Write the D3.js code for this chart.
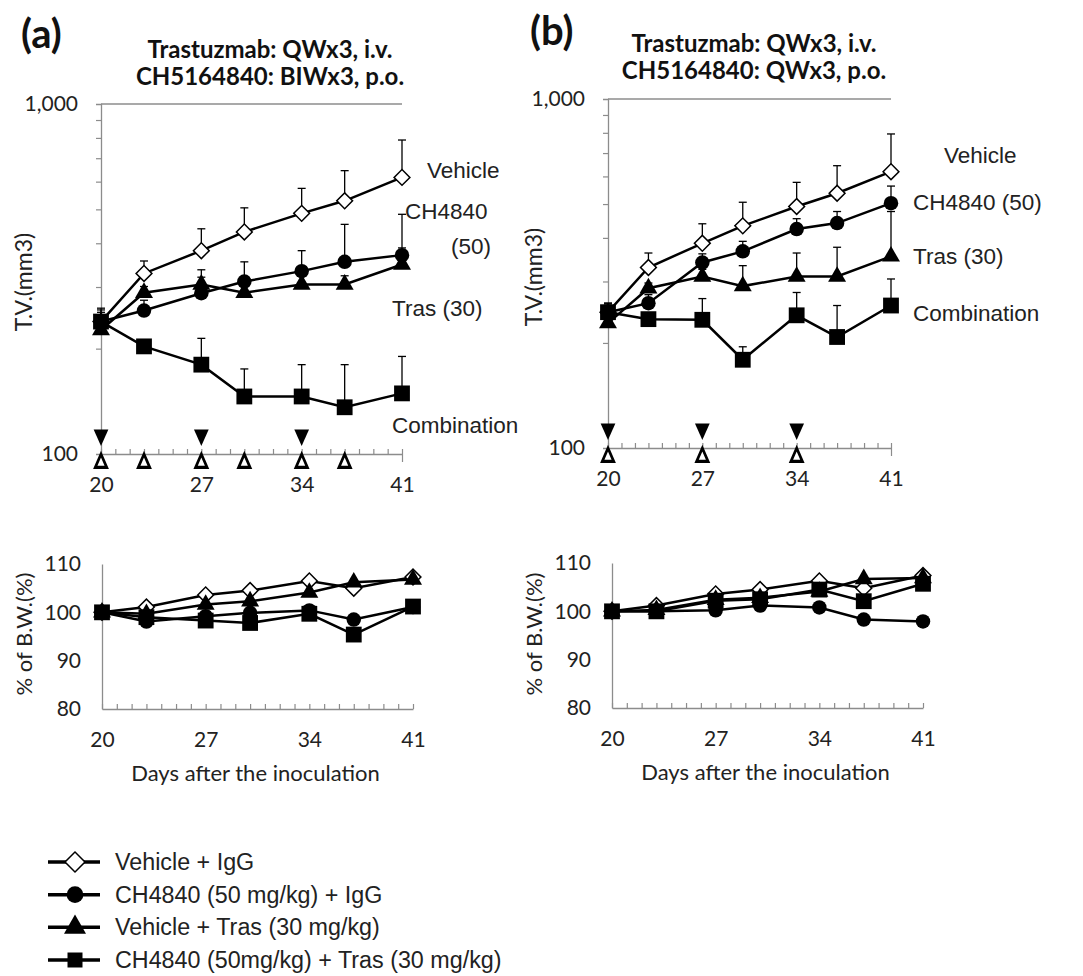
<!DOCTYPE html>
<html><head><meta charset="utf-8">
<script src="https://cdn.jsdelivr.net/npm/d3@7"></script>
<style>body{margin:0;background:#fff}</style>
</head><body>
<svg id="c" width="1083" height="976"></svg>
<script>
// ---------- DATA ----------
const days = [20, 23, 27, 30, 34, 37, 41];
const xTickDays = [20, 27, 34, 41];
const tvTickLabels = [100, 1000];
const tvMinorTicks = [200, 300, 400, 500, 600, 700, 800, 900];
const bwTickLabels = [80, 90, 100, 110];
const seriesNames = ["Vehicle + IgG", "CH4840 (50 mg/kg) + IgG", "Vehicle + Tras (30 mg/kg)", "CH4840 (50mg/kg) + Tras (30 mg/kg)"];
const seriesShapes = ["diamond", "circle", "triangle", "square"];

// Panel (a) tumour volume (mm3) and upper SD
const tvA_vehicle = [239, 328, 381, 431, 487, 529, 617];
const tvA_vehicleErr = [22, 28, 59, 74, 87, 116, 172];
const tvA_ch = [239, 257, 288, 311, 333, 354, 370];
const tvA_chErr = [15, 18, 32, 43, 48, 99, 114];
const tvA_tras = [226, 289, 305, 289, 305, 305, 348];
const tvA_trasErr = [10, 12, 31, 15, 18, 18, 40];
const tvA_combo = [239, 203, 180, 146, 146, 136, 149];
const tvA_comboErr = [19, 7, 34, 29, 34, 44, 41];

// Panel (b) tumour volume (mm3) and upper SD
const tvB_vehicle = [245, 329, 386, 433, 492, 537, 619];
const tvB_vehicleErr = [15, 33, 53, 73, 85, 107, 175];
const tvB_ch = [245, 260, 340, 366, 424, 441, 503];
const tvB_chErr = [12, 15, 20, 25, 30, 35, 60];
const tvB_tras = [228, 287, 310, 291, 310, 310, 354];
const tvB_trasErr = [10, 10, 15, 42, 52, 66, 122];
const tvB_combo = [245, 234, 233, 179, 240, 208, 256];
const tvB_comboErr = [15, 8, 35, 16, 39, 48, 49];

// % of body weight
const bwA_vehicle = [100, 101.1, 103.6, 104.5, 106.5, 105.0, 107.3];
const bwA_ch = [100, 98.1, 99.2, 99.9, 100.4, 98.5, 101.1];
const bwA_tras = [100, 99.7, 101.6, 102.3, 104.1, 106.2, 106.8];
const bwA_combo = [100, 99.0, 98.3, 97.8, 99.7, 95.4, 101.2];
const bwB_vehicle = [100, 101.2, 103.6, 104.5, 106.3, 104.8, 107.4];
const bwB_ch = [100, 100.0, 100.2, 101.2, 100.8, 98.3, 97.9];
const bwB_tras = [100, 100.3, 102.4, 102.8, 104.1, 106.7, 106.9];
const bwB_combo = [100, 100.0, 102.2, 102.5, 104.5, 102.1, 105.7];

// dosing days
const trasDoseDays = [20, 27, 34];
const chDoseDaysA = [20, 23, 27, 30, 34, 37];
const chDoseDaysB = [20, 27, 34];

// texts
const panelTags = ["(a)", "(b)"];
const titleA = ["Trastuzmab: QWx3, i.v.", "CH5164840: BIWx3, p.o."];
const titleB = ["Trastuzmab: QWx3, i.v.", "CH5164840: QWx3, p.o."];
const tvAxisTitle = "T.V.(mm3)";
const bwAxisTitle = "% of B.W.(%)";
const xAxisTitle = "Days after the inoculation";
const curveLabelsA = ["Vehicle", "CH4840", "(50)", "Tras (30)", "Combination"];
const curveLabelsB = ["Vehicle", "CH4840 (50)", "Tras (30)", "Combination"];

// ---------- DRAWING ----------
const svg = d3.select("#c");
const AX = "#8c8c8c";
const TXT = "#222";
const numFont = "Lato, 'Liberation Sans', sans-serif";
const lblFont = "'Liberation Sans', Arial, sans-serif";

const markerArea = { diamond: 125, circle: 165, triangle: 140, square: 250 };
function drawMarker(g, shape, x, y, areas) {
  const a = (areas || markerArea)[shape];
  const type = shape === "circle" ? d3.symbolCircle : shape === "triangle" ? d3.symbolTriangle : d3.symbolSquare;
  const p = g.append("path").attr("d", d3.symbol(type, a)())
    .attr("transform", `translate(${x},${y})` + (shape === "diamond" ? " rotate(45)" : ""));
  if (shape === "diamond") p.attr("fill", "#fff").attr("stroke", "#000").attr("stroke-width", 1.5);
  else p.attr("fill", "#000");
  return p;
}

function drawTop(cfg) {
  const g = svg.append("g");
  const x = d3.scaleLinear().domain([20, 41]).range(cfg.xr);
  const y = d3.scaleLog().domain([100, 1000]).range(cfg.yr);

  g.append("line").attr("x1", x(20)).attr("x2", x(41)).attr("y1", y(1000)).attr("y2", y(1000))
    .attr("stroke", AX).attr("stroke-width", 1.3);

  const ya = g.append("g").attr("transform", `translate(${x(20)},0)`)
    .call(d3.axisLeft(y).tickValues(tvMinorTicks).tickSize(5).tickFormat(""));
  ya.select(".domain").attr("stroke", AX).attr("stroke-width", 1.3);
  ya.selectAll(".tick line").attr("stroke", AX).attr("stroke-width", 1.2);
  const yl = g.append("g").attr("transform", `translate(${x(20) - 20},0)`)
    .call(d3.axisLeft(y).tickValues(tvTickLabels).tickSize(0).tickFormat(d3.format(",")));
  yl.select(".domain").remove();
  yl.selectAll("text").attr("font-family", numFont).attr("font-size", 21).attr("fill", TXT);

  const xa = g.append("g").attr("transform", `translate(0,${y(100)})`)
    .call(d3.axisBottom(x).tickValues(d3.range(20, 42)).tickSizeInner(-5).tickSizeOuter(0).tickFormat(""));
  xa.select(".domain").attr("stroke", AX).attr("stroke-width", 1.3);
  xa.selectAll(".tick line").attr("stroke", AX).attr("stroke-width", 1.2);
  const xm = g.append("g").attr("transform", `translate(0,${y(100)})`)
    .call(d3.axisBottom(x).tickValues(xTickDays).tickSize(8).tickFormat(""));
  xm.select(".domain").remove();
  xm.selectAll(".tick line").attr("stroke", AX).attr("stroke-width", 1.2);
  const xl = g.append("g").attr("transform", `translate(0,${y(100) + 20})`)
    .call(d3.axisBottom(x).tickValues(xTickDays).tickSize(0).tickFormat(d3.format("d")));
  xl.select(".domain").remove();
  xl.selectAll("text").attr("font-family", numFont).attr("font-size", 21).attr("fill", TXT);

  g.append("text").attr("transform", `translate(${cfg.ytX},${cfg.ytY}) rotate(-90)`)
    .attr("text-anchor", "middle").attr("font-family", numFont).attr("font-size", 23)
    .attr("fill", TXT).text(tvAxisTitle);

  // dose markers
  trasDoseDays.forEach(d => {
    g.append("path").attr("d", d3.symbol(d3.symbolTriangle, 130)())
      .attr("transform", `translate(${x(d)},${y(100) - 19}) rotate(180) scale(0.85,1.1)`).attr("fill", "#000");
  });
  cfg.chDays.forEach(d => {
    g.append("path").attr("d", d3.symbol(d3.symbolTriangle, 70)())
      .attr("transform", `translate(${x(d)},${y(100) + 9}) scale(0.9,1.2)`).attr("fill", "#fff")
      .attr("stroke", "#000").attr("stroke-width", 2.8);
  });

  const line = d3.line().x((d, i) => x(days[i])).y(d => y(d));
  cfg.series.forEach((s, si) => {
    const sg = g.append("g");
    s.v.forEach((v, i) => {
      const top = v + s.e[i];
      sg.append("line").attr("x1", x(days[i])).attr("x2", x(days[i])).attr("y1", y(v)).attr("y2", y(top))
        .attr("stroke", "#000").attr("stroke-width", 1.3);
      sg.append("line").attr("x1", x(days[i]) - 4).attr("x2", x(days[i]) + 4).attr("y1", y(top)).attr("y2", y(top))
        .attr("stroke", "#000").attr("stroke-width", 1.3);
    });
    sg.append("path").datum(s.v).attr("d", line).attr("fill", "none").attr("stroke", "#000").attr("stroke-width", 2.5);
    s.v.forEach((v, i) => drawMarker(sg, seriesShapes[si], x(days[i]), y(v)));
  });

  cfg.labels.forEach(l => {
    g.append("text").attr("x", l.x).attr("y", l.y).attr("font-family", lblFont).attr("font-size", 22.5)
      .attr("fill", TXT).attr("text-anchor", l.anchor || "start").text(l.t);
  });
  return g;
}

function drawBottom(cfg) {
  const g = svg.append("g");
  const x = d3.scaleLinear().domain([20, 41]).range(cfg.xr);
  const y = d3.scaleLinear().domain([80, 110]).range(cfg.yr);

  const ya = g.append("g").attr("transform", `translate(${x(20)},0)`)
    .call(d3.axisLeft(y).tickValues(bwTickLabels).tickSize(0).tickFormat(""));
  ya.select(".domain").attr("stroke", AX).attr("stroke-width", 1.3);
  const yl = g.append("g").attr("transform", `translate(${x(20) - 18},0)`)
    .call(d3.axisLeft(y).tickValues(bwTickLabels).tickSize(0).tickFormat(d3.format("d")));
  yl.select(".domain").remove();
  yl.selectAll("text").attr("font-family", numFont).attr("font-size", 21).attr("fill", TXT);

  const xa = g.append("g").attr("transform", `translate(0,${y(80)})`)
    .call(d3.axisBottom(x).tickValues(d3.range(20, 42)).tickSizeInner(-5).tickSizeOuter(0).tickFormat(""));
  xa.select(".domain").attr("stroke", AX).attr("stroke-width", 1.3);
  xa.selectAll(".tick line").attr("stroke", AX).attr("stroke-width", 1.2);
  const xl = g.append("g").attr("transform", `translate(0,${y(80) + 20})`)
    .call(d3.axisBottom(x).tickValues(xTickDays).tickSize(0).tickFormat(d3.format("d")));
  xl.select(".domain").remove();
  xl.selectAll("text").attr("font-family", numFont).attr("font-size", 21).attr("fill", TXT);

  g.append("text").attr("x", (cfg.xr[0] + cfg.xr[1]) / 2 - 2).attr("y", y(80) + 72)
    .attr("text-anchor", "middle").attr("font-family", numFont).attr("font-size", 22)
    .attr("fill", TXT).text(xAxisTitle);
  g.append("text").attr("transform", `translate(${cfg.ytX},${cfg.ytY}) rotate(-90)`)
    .attr("text-anchor", "middle").attr("font-family", numFont).attr("font-size", 22)
    .attr("fill", TXT).text(bwAxisTitle);

  const line = d3.line().x((d, i) => x(days[i])).y(d => y(d));
  cfg.series.forEach((s, si) => {
    const sg = g.append("g");
    sg.append("path").datum(s).attr("d", line).attr("fill", "none").attr("stroke", "#000").attr("stroke-width", 2.5);
    s.forEach((v, i) => drawMarker(sg, seriesShapes[si], x(days[i]), y(v)));
  });
}

function drawTitle(tag, lines, tagX, tagY, cx, y1, y2) {
  svg.append("text").attr("x", tagX).attr("y", tagY).attr("font-family", numFont).attr("font-weight", "bold")
    .attr("font-size", 40).attr("fill", "#111").text(tag);
  svg.append("text").attr("x", cx).attr("y", y1).attr("text-anchor", "middle").attr("font-family", numFont)
    .attr("font-weight", "bold").attr("font-size", 24).attr("fill", "#111").text(lines[0]);
  svg.append("text").attr("x", cx).attr("y", y2).attr("text-anchor", "middle").attr("font-family", numFont)
    .attr("font-weight", "bold").attr("font-size", 24).attr("fill", "#111").text(lines[1]);
}

drawTitle(panelTags[0], titleA, 21, 48, 270, 58, 85);
drawTitle(panelTags[1], titleB, 530, 45, 754, 52, 79);

drawTop({
  xr: [101, 402], yr: [454, 104], chDays: chDoseDaysA, ytX: 32, ytY: 282,
  series: [
    { v: tvA_vehicle, e: tvA_vehicleErr }, { v: tvA_ch, e: tvA_chErr },
    { v: tvA_tras, e: tvA_trasErr }, { v: tvA_combo, e: tvA_comboErr }],
  labels: [
    { t: curveLabelsA[0], x: 427, y: 178 }, { t: curveLabelsA[1], x: 405, y: 219 },
    { t: curveLabelsA[2], x: 491, y: 254, anchor: "end" }, { t: curveLabelsA[3], x: 392, y: 316 },
    { t: curveLabelsA[4], x: 392, y: 433 }]
});
drawTop({
  xr: [608, 891], yr: [448, 99], chDays: chDoseDaysB, ytX: 542, ytY: 277,
  series: [
    { v: tvB_vehicle, e: tvB_vehicleErr }, { v: tvB_ch, e: tvB_chErr },
    { v: tvB_tras, e: tvB_trasErr }, { v: tvB_combo, e: tvB_comboErr }],
  labels: [
    { t: curveLabelsB[0], x: 944, y: 163 }, { t: curveLabelsB[1], x: 913, y: 210 },
    { t: curveLabelsB[2], x: 913, y: 264 }, { t: curveLabelsB[3], x: 913, y: 321 }]
});
drawBottom({ xr: [102, 413], yr: [709, 564], ytX: 32, ytY: 634, series: [bwA_vehicle, bwA_ch, bwA_tras, bwA_combo] });
drawBottom({ xr: [612, 923], yr: [708, 563], ytX: 542, ytY: 634, series: [bwB_vehicle, bwB_ch, bwB_tras, bwB_combo] });

// legend
const leg = svg.append("g");
const legY = d3.scalePoint().domain(seriesNames).range([862, 960]);
const legAreas = { diamond: 200, circle: 220, triangle: 210, square: 225 };
seriesNames.forEach((n, i) => {
  const yy = legY(n);
  leg.append("line").attr("x1", 48).attr("x2", 100).attr("y1", yy).attr("y2", yy)
    .attr("stroke", "#000").attr("stroke-width", 3.5);
  drawMarker(leg, seriesShapes[i], 75, yy, legAreas);
  leg.append("text").attr("x", 115).attr("y", yy + 8).attr("font-family", lblFont).attr("font-size", 23.3)
    .attr("fill", TXT).text(n);
});
</script>
</body></html>
